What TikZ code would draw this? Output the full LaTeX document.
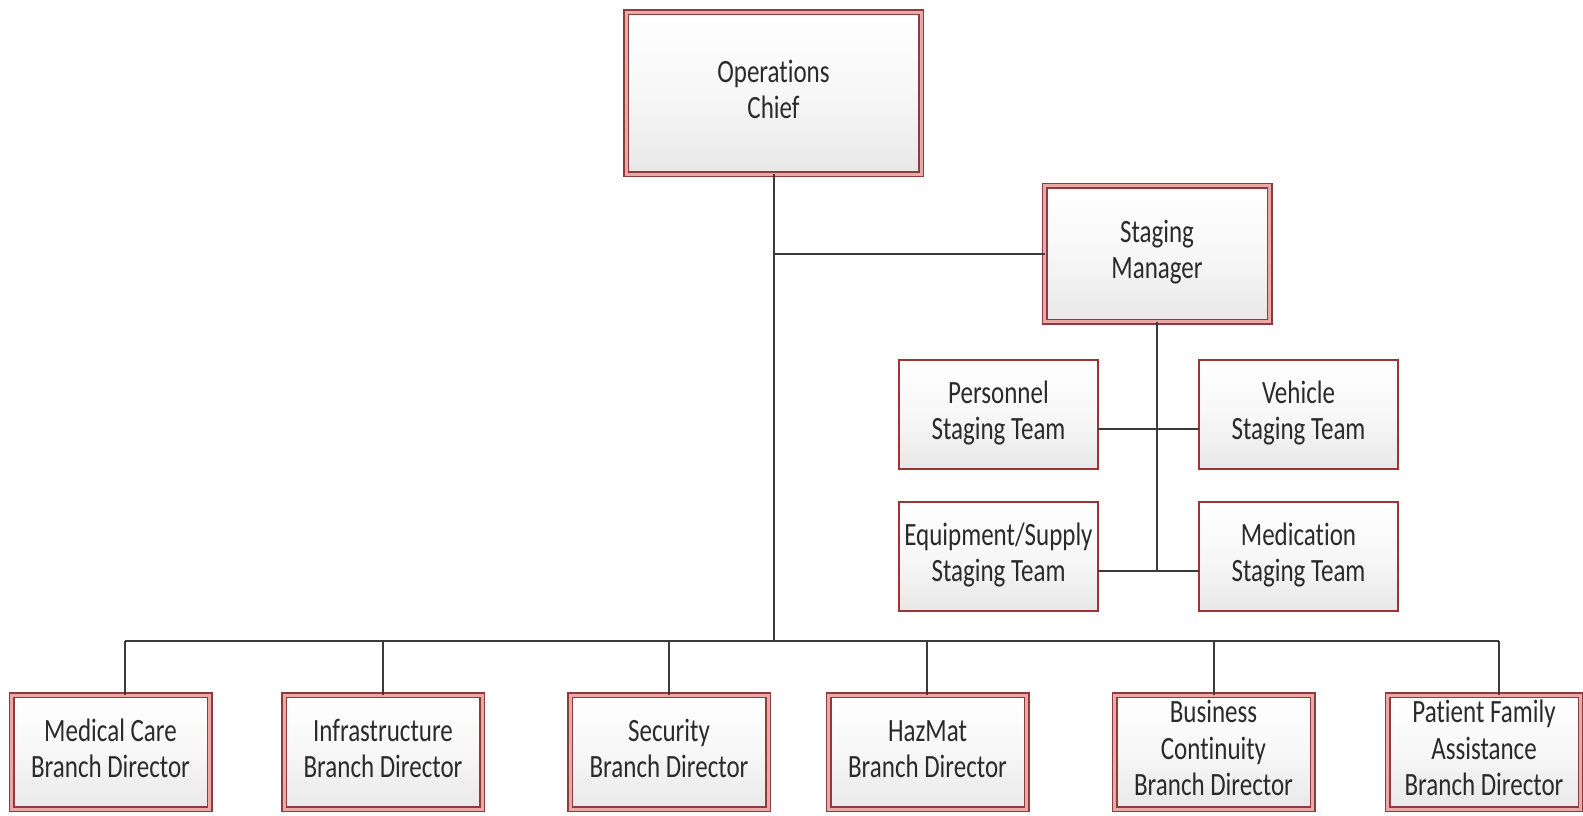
\documentclass[tikz,border=0pt]{standalone}
\usepackage{fontspec}
\setmainfont{Carlito}[RawFeature={-liga;-clig;-calt;-dlig}]
\usetikzlibrary{calc}
\pgfdeclarelayer{background}
\pgfsetlayers{background,main}

\definecolor{edge}{HTML}{8E3B3B}
\definecolor{gapred}{HTML}{E9A9A9}
\definecolor{halo}{HTML}{F5CFCF}
\definecolor{wire}{HTML}{3A3A3A}
\definecolor{ink}{HTML}{2A2A2A}

% two-line / three-line centred label, stretched vertically
\newcommand{\lbl}[1]{\scalebox{1}[1.3]{\begin{tabular}{@{}c@{}}#1\end{tabular}}}
% keeps "t" and "i" as separate glyphs
\newcommand{\nolig}{\kern0pt}

\tikzset{
  boxbase/.style={inner sep=0pt, outer sep=0pt, text=ink,
    top color=white, bottom color=black!9, middle color=white!97!black},
  dbox/.style={boxbase, draw=edge, line width=1.5pt, double=gapred,
    double distance=3pt},
  sbox/.style={boxbase, draw=edge!85!red, line width=2.2pt,
    minimum width=199pt, minimum height=109pt},
  branch/.style={dbox, minimum width=198pt, minimum height=114pt},
  wireline/.style={draw=wire, line width=2pt},
  haloline/.style={draw=halo, line width=11pt}
}

\begin{document}
\begin{tikzpicture}[x=1pt, y=-1pt, font=\fontsize{25}{28}\selectfont]
\useasboundingbox[fill=white] (0,0) rectangle (1583,815);

% top of the chart
\node[dbox, minimum width=295pt, minimum height=162pt] (ops) at (773.5,93)
  {\lbl{Operat\nolig ions\\Chief}};
\node[dbox, minimum width=225pt, minimum height=136pt] (sm) at (1157,253.5)
  {\lbl{Staging\\Manager}};

% staging teams
\node[sbox] (pers)  at (998.5,414.5)  {\lbl{Personnel\\Staging Team}};
\node[sbox] (veh)   at (1298.5,414.5) {\lbl{Vehicle\\Staging Team}};
\node[sbox] (equip) at (998.5,556.5)  {\lbl{Equipment/Supply\\Staging Team}};
\node[sbox] (medic) at (1298.5,556.5) {\lbl{Medicat\nolig ion\\Staging Team}};

% branch directors
\node[branch] (mcare)  at (110.5,752)  {\lbl{Medical Care\\Branch Director}};
\node[branch] (infra)  at (383,752)    {\lbl{Infrastructure\\Branch Director}};
\node[branch] (secur)  at (669,752)    {\lbl{Security\\Branch Director}};
\node[branch] (hazmat) at (927.5,752)  {\lbl{HazMat\\Branch Director}};
\node[branch] (busin)  at (1213.5,752) {\lbl{Business\\Cont\nolig inuity\\Branch Director}};
\node[branch, minimum width=193pt] (pfam) at (1484,752)
  {\lbl{Pat\nolig ient Family\\Assistance\\Branch Director}};

% soft glow behind every box
\begin{pgfonlayer}{background}
\foreach \n in {ops,sm,pers,veh,equip,medic,mcare,infra,secur,hazmat,busin,pfam}
  \draw[haloline] (\n.north west) rectangle (\n.south east);
\end{pgfonlayer}

% drop points on the branch bus
\coordinate (d1) at (125,641);
\coordinate (d2) at (383,641);
\coordinate (d3) at (669,641);
\coordinate (d4) at (927,641);
\coordinate (d5) at (1214,641);
\coordinate (d6) at (1499,641);

% attach points of the team links, a little below the box centres
\coordinate (pr) at ([yshift=-14pt]pers.east);
\coordinate (vl) at ([yshift=-14pt]veh.west);
\coordinate (er) at ([yshift=-14pt]equip.east);
\coordinate (ml) at ([yshift=-14pt]medic.west);

% connectors
\draw[wireline] (ops.south) -- (ops.south |- d1);
\draw[wireline] (sm.west) -- (sm.west -| ops.south);
\draw[wireline] (d1) -- (d6);
\draw[wireline] (d1) -- (d1 |- mcare.north);
\draw[wireline] (d2) -- (d2 |- infra.north);
\draw[wireline] (d3) -- (d3 |- secur.north);
\draw[wireline] (d4) -- (d4 |- hazmat.north);
\draw[wireline] (d5) -- (d5 |- busin.north);
\draw[wireline] (d6) -- (d6 |- pfam.north);

\draw[wireline] (sm.south) -- (sm.south |- er);
\draw[wireline] (pr) -- (vl);
\draw[wireline] (er) -- (ml);
\end{tikzpicture}
\end{document}
